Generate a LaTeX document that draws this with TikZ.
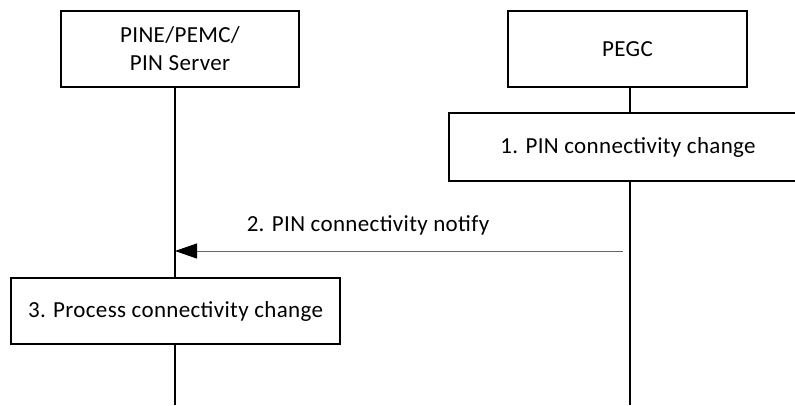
\documentclass[tikz,border=0pt]{standalone}
\usepackage{fontspec}
\setmainfont{Carlito}[LetterSpace=1.5]
\usetikzlibrary{arrows.meta}
\begin{document}
\begin{tikzpicture}[x=1pt,y=-1pt,
  txt/.style={font=\fontsize{23}{28}\selectfont},
  entity/.style={draw,line width=1.3pt,minimum width=238pt,minimum height=76pt,align=center,txt,inner sep=0pt},
  stepbox/.style={draw,line width=1.3pt,align=center,txt,inner sep=0pt},
  life/.style={line width=1.3pt},
  msg/.style={draw=black!60,line width=1pt,-{Triangle[length=22pt,width=15pt,fill=black,color=black]}},
  lbl/.style={txt}]
\useasboundingbox (0,0) rectangle (795,405);
\node[entity] (pine) at (180,49) {PINE/PEMC/\\PIN Server};
\node[entity,minimum width=239pt] (pegc) at (627.5,49) {PEGC};
\node[stepbox,minimum width=358pt,minimum height=68pt] (s1) at (628,147) {1. PIN connectivity change};
\node[stepbox,minimum width=329pt,minimum height=66pt] (s3) at (175.5,311) {3. Process connectivity change};
\coordinate (lb) at (175,405);
\coordinate (rb) at (630,405);
\coordinate (lt) at (175,87);
\coordinate (rt) at (630,87);
\coordinate (m1) at (623,251);
\coordinate (m2) at (175,251);
\draw[life] (lt) -- (s3.north -| lt);
\draw[life] (s3.south -| lt) -- (lb);
\draw[life] (rt) -- (s1.north -| rt);
\draw[life] (s1.south -| rt) -- (rb);
\draw[msg] (m1) -- (m2);
\node[lbl] (l2) at (368,225) {2. PIN connectivity notify};
\end{tikzpicture}
\end{document}
